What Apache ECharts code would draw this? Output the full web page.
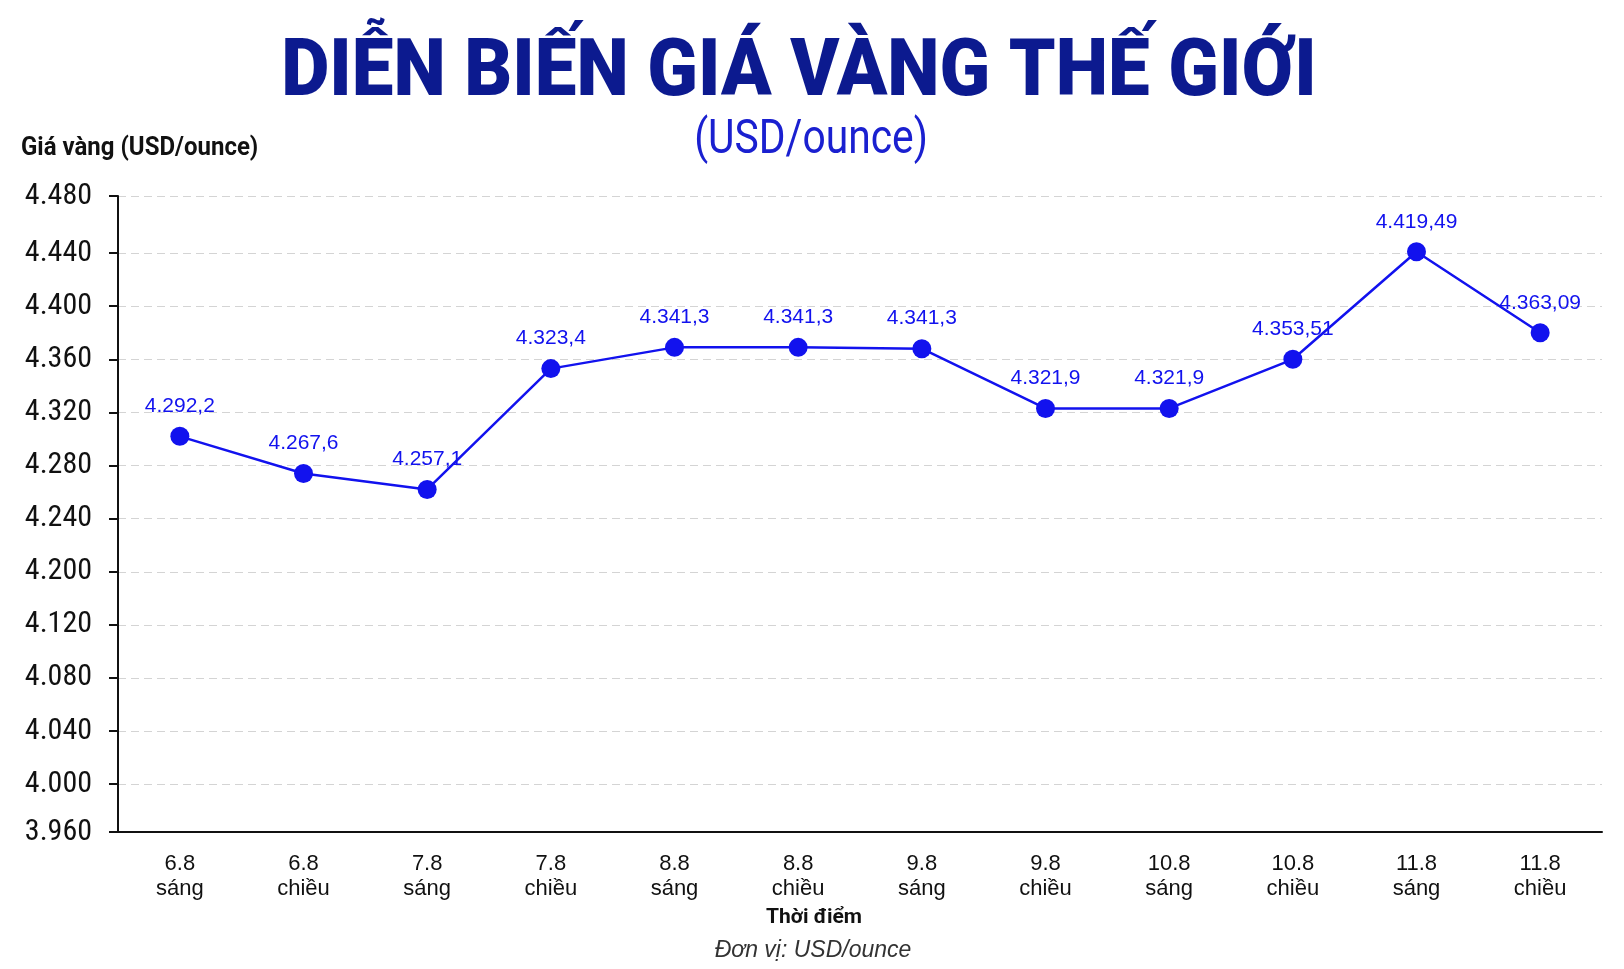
<!DOCTYPE html>
<html>
<head>
<meta charset="utf-8">
<title>Diễn biến giá vàng thế giới</title>
<script src="https://cdn.jsdelivr.net/npm/echarts@6/dist/echarts.min.js"></script>
<style>
    html, body { margin: 0; padding: 0; background: #fff; }
    #chart { width: 1624px; height: 969px; }
</style>
</head>
<body>
<div id="chart"></div>
<script>
// data
const categories = ['6.8\nsáng', '6.8\nchiều', '7.8\nsáng', '7.8\nchiều', '8.8\nsáng', '8.8\nchiều',
    '9.8\nsáng', '9.8\nchiều', '10.8\nsáng', '10.8\nchiều', '11.8\nsáng', '11.8\nchiều']
// where each dot sits on the y axis
const pointValues = [4302, 4274, 4262, 4353, 4369, 4369, 4368, 4323, 4323, 4360, 4441, 4380]
// the figures printed above the dots
const valueLabels = ['4.292,2', '4.267,6', '4.257,1', '4.323,4', '4.341,3', '4.341,3', '4.341,3',
    '4.321,9', '4.321,9', '4.353,51', '4.419,49', '4.363,09']
// the axis skips 4.160 and its end steps are uneven, so ticks sit on these values
// and get their text from yTickLabels
const yTickValues = [4004, 4040, 4080, 4120, 4160, 4200, 4240, 4280, 4320, 4360, 4400, 4440, 4483]
const yTickLabels = ['3.960', '4.000', '4.040', '4.080', '4.120', '4.200', '4.240', '4.280',
    '4.320', '4.360', '4.400', '4.440', '4.480']

const BLUE = '#1212ee'
const INK = '#111111'

function tickLabel(v) {
    let best = 0
    for (let i = 1; i < yTickValues.length; i++) {
        if (Math.abs(yTickValues[i] - v) < Math.abs(yTickValues[best] - v)) best = i
    }
    return yTickLabels[best]
}

function textEl(text, x, y, style, scaleX) {
    return {
        type: 'text',
        x: x,
        y: y,
        scaleX: scaleX || 1,
        silent: true,
        style: Object.assign({
            text: text,
            textAlign: 'center',
            align: 'center',
            textVerticalAlign: 'middle',
            verticalAlign: 'middle'
        }, style)
    }
}

const chart = echarts.init(document.getElementById('chart'))

const option = {
    animation: false,
    backgroundColor: '#ffffff',
    grid: { left: 118, right: 22, top: 196, bottom: 137, containLabel: false },
    graphic: [
        textEl('DIỄN BIẾN GIÁ VÀNG THẾ GIỚI', 799, 75, {
            fontFamily: 'Roboto', fontWeight: 900, fontSize: 80, fill: '#0c1a8f'
        }, 0.93),
        textEl('(USD/ounce)', 811, 141, {
            fontFamily: 'Roboto', fontWeight: 'normal', fontSize: 48, fill: '#1a20d0'
        }, 0.85),
        textEl('Giá vàng (USD/ounce)', 21, 149, {
            fontFamily: 'Roboto', fontWeight: 'bold', fontSize: 25, fill: INK,
            textAlign: 'left', align: 'left'
        }, 0.96),
        textEl('Thời điểm', 814, 918, {
            fontFamily: 'Roboto', fontWeight: 'bold', fontSize: 21, fill: INK
        }),
        textEl('Đơn vị: USD/ounce', 813, 951, {
            fontFamily: 'Liberation Sans', fontStyle: 'italic', fontSize: 23, fill: '#333333'
        })
    ],
    xAxis: {
        type: 'category',
        data: categories,
        boundaryGap: true,
        axisLine: { lineStyle: { color: INK, width: 2 } },
        axisTick: { alignWithLabel: true, length: 8, lineStyle: { color: INK, width: 2 } },
        axisLabel: {
            interval: 0,
            margin: 19,
            color: INK,
            fontFamily: 'Liberation Sans',
            fontSize: 22,
            lineHeight: 25
        },
        splitLine: { show: false }
    },
    yAxis: {
        type: 'value',
        min: yTickValues[0],
        max: yTickValues[yTickValues.length - 1],
        axisLine: { show: true, lineStyle: { color: INK, width: 2 } },
        axisTick: { show: true, length: 9, customValues: yTickValues, lineStyle: { color: INK, width: 2 } },
        axisLabel: {
            margin: 26,
            color: INK,
            fontFamily: 'Roboto Condensed, Roboto',
            fontSize: 30,
            customValues: yTickValues,
            formatter: tickLabel
        },
        splitLine: { show: true, lineStyle: { color: '#d4d4d4', width: 1, type: [8, 5] } }
    },
    series: [{
        type: 'line',
        data: pointValues,
        symbol: 'circle',
        symbolSize: 19,
        lineStyle: { color: BLUE, width: 2.5 },
        itemStyle: { color: BLUE },
        label: {
            show: true,
            position: 'top',
            distance: 10,
            color: BLUE,
            fontFamily: 'Liberation Sans',
            fontSize: 21,
            formatter: function (p) { return valueLabels[p.dataIndex] }
        }
    }]
}

chart.setOption(option)
</script>
</body>
</html>
